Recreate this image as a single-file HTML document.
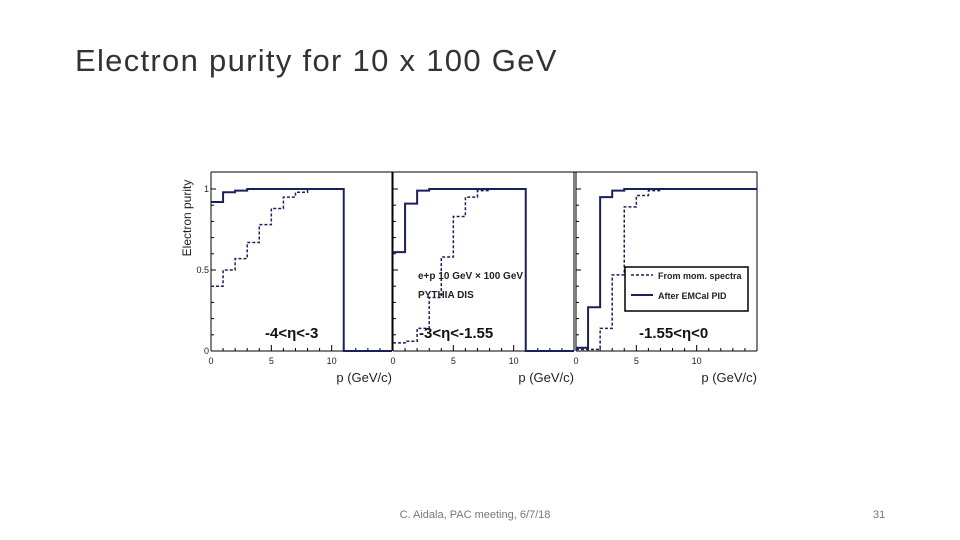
<!DOCTYPE html>
<html><head><meta charset="utf-8"><style>
body{margin:0;width:960px;height:540px;background:#fff;overflow:hidden;position:relative;font-family:"Liberation Sans",sans-serif}
#title{position:absolute;left:75px;top:43px;font-size:31px;color:#333;letter-spacing:1.3px;white-space:nowrap}
#foot{position:absolute;left:0;width:950px;text-align:center;top:509px;font-size:11px;color:#777}
#pg{position:absolute;left:873px;top:509px;font-size:11px;color:#777}
</style></head><body>
<div id="title">Electron purity for 10 x 100 GeV</div>
<svg id="c" width="960" height="540" style="position:absolute;left:0;top:0"></svg>
<div id="foot">C. Aidala, PAC meeting, 6/7/18</div>
<div id="pg">31</div>
<script>
const etaLabels=["-4<η<-3","-3<η<-1.55","-1.55<η<0"];
const solid1=[0.92,0.98,0.99,1,1,1,1,1,1,1,1,0,0,0,0];
const dashed1=[0.40,0.50,0.57,0.67,0.78,0.88,0.95,0.98,1.0];
const solid2=[0.61,0.91,0.99,1,1,1,1,1,1,1,1,0,0,0,0];
const dashed2=[0.05,0.06,0.14,0.33,0.58,0.83,0.95,0.99,1.0];
const solid3=[0.02,0.27,0.95,0.99,1,1,1,1,1,1,1,1,1,1,1];
const dashed3=[0.01,0.01,0.14,0.47,0.89,0.96,0.99,1.0,1.0];
const xTicks=[0,5,10];
const yTicks=[0,0.5,1];
const solids=[solid1,solid2,solid3], dashes=[dashed1,dashed2,dashed3];
const svg=document.getElementById('c');const NS='http://www.w3.org/2000/svg';
function mk(t,a,txt){const e=document.createElementNS(NS,t);for(const k in a)e.setAttribute(k,a[k]);if(txt!==undefined)e.textContent=txt;svg.appendChild(e);return e;}
const x0s=[211,393,576], pw=181, topY=172, y0=351, y1=189;
const Y=v=>y0-(y0-y1)*v;
const col='#1a1f5e';
const ft=mk('line',{x1:211,y1:topY,x2:757,y2:topY,stroke:'#000','stroke-width':1});


x0s.forEach((x0,i)=>{
  const X=v=>x0+v*pw/15;
  const l=mk('line',{x1:x0,y1:topY,x2:x0,y2:y0,stroke:'#000','stroke-width':1});
  
  
  const r=mk('line',{x1:x0+pw,y1:topY,x2:x0+pw,y2:y0,stroke:'#000','stroke-width':1});
  
  
  const b=mk('line',{x1:x0,y1:y0,x2:x0+pw,y2:y0,stroke:'#000','stroke-width':1});
  
  
  for(let t=0;t<=15;t++){const tk=mk('line',{x1:X(t),y1:y0,x2:X(t),y2:y0-(t%5==0?6:3),stroke:'#000'});
    
    }
  for(let k=0;k<=10;k++){const tk=mk('line',{x1:x0,y1:Y(k/10),x2:x0+(k%5==0?5:3),y2:Y(k/10),stroke:'#000'});
    
    }
  xTicks.forEach(t=>{const tl=mk('text',{x:X(t),y:y0+13,'font-size':9,'text-anchor':'middle',fill:'#222'},t);
    
    });
  function step(arr,dash,w){let d='M'+X(0)+','+Y(arr[0]);arr.forEach((v,j)=>{d+=' L'+X(j)+','+Y(v)+' L'+X(j+1)+','+Y(v);});
    return mk('path',{d:d,fill:'none',stroke:col,'stroke-width':w,'stroke-dasharray':dash});}
  const s=step(solids[i],'none',2);
  
  
  const dd=step(dashes[i],'3,2',1.5);
  
  
  const e=mk('text',{x:[265,419,639][i],y:338,'font-size':15,'font-weight':'bold',fill:'#111'},etaLabels[i]);
  
  
  const xt=mk('text',{x:x0+pw,y:382,'font-size':13,'text-anchor':'end',fill:'#222'},'p (GeV/c)');
  
  
});
yTicks.forEach(t=>{const tl=mk('text',{x:209,y:Y(t)+3,'font-size':9,'text-anchor':'end',fill:'#222'},t);
  
  });
const yt=mk('text',{x:0,y:0,'font-size':12,'text-anchor':'middle',fill:'#222',transform:'translate(191,218) rotate(-90)'},'Electron purity');


const a1=mk('text',{x:418,y:279,'font-size':10,'font-weight':'bold',fill:'#222'},'e+p 10 GeV × 100 GeV');


const a2=mk('text',{x:418,y:298,'font-size':10,'font-weight':'bold',fill:'#222'},'PYTHIA DIS');


const lg=mk('rect',{x:625,y:267,width:123,height:44,fill:'#fff',stroke:'#000','stroke-width':1.5});


const l1=mk('line',{x1:631,y1:275,x2:653,y2:275,stroke:col,'stroke-width':1.5,'stroke-dasharray':'3,2'});


const t1=mk('text',{x:658,y:279,'font-size':9,'font-weight':'bold',fill:'#222'},'From mom. spectra');


const l2=mk('line',{x1:631,y1:295,x2:653,y2:295,stroke:col,'stroke-width':2});


const t2=mk('text',{x:658,y:299,'font-size':9,'font-weight':'bold',fill:'#222'},'After EMCal PID');


</script>
</body></html>
